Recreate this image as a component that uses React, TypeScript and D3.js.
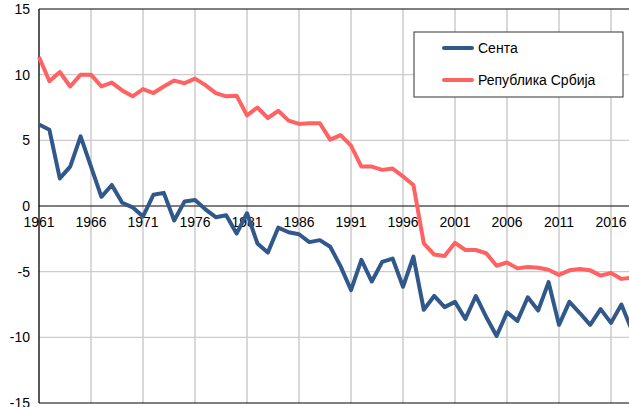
import React, { useRef, useEffect } from 'react';
import * as d3 from 'd3';

// years 1961 - 2018
const years = d3.range(1961, 2019);

const sentaValues = [
  6.2, 5.8, 2.1, 3.0, 5.3, 3.0, 0.7, 1.6, 0.25, -0.1,
  -0.8, 0.85, 1.0, -1.1, 0.35, 0.45, -0.25, -0.85, -0.7, -2.1,
  -0.55, -2.85, -3.55, -1.65, -2.0, -2.15, -2.75, -2.6, -3.1, -4.6,
  -6.4, -4.1, -5.75, -4.25, -4.0, -6.15, -3.85, -7.9, -6.85, -7.7,
  -7.3, -8.6, -6.85, -8.45, -9.9, -8.1, -8.75, -6.95, -7.95, -5.8,
  -9.05, -7.3, -8.15, -9.05, -7.85, -8.9, -7.5, -9.45,
];

const serbiaValues = [
  11.35, 9.5, 10.2, 9.1, 10.0, 10.0, 9.1, 9.4, 8.8, 8.35,
  8.9, 8.6, 9.1, 9.55, 9.35, 9.7, 9.2, 8.6, 8.35, 8.4,
  6.9, 7.5, 6.7, 7.25, 6.5, 6.25, 6.3, 6.3, 5.05, 5.4,
  4.6, 3.0, 3.0, 2.75, 2.85, 2.25, 1.6, -2.85, -3.7, -3.8,
  -2.8, -3.35, -3.35, -3.6, -4.55, -4.3, -4.75, -4.65, -4.7, -4.85,
  -5.25, -4.9, -4.8, -4.9, -5.3, -5.1, -5.55, -5.45,
];

const yTicks = [-15, -10, -5, 0, 5, 10, 15];
const xTicks = d3.range(1961, 2017, 5);

const seriesNames = ['Сента', 'Република Србија'];
const seriesColors = ['#30588a', '#ff6262'];

const App = () => {
  const chartRef = useRef<SVGSVGElement>(null);

  useEffect(() => {
    const svg = d3.select(chartRef.current);
    svg.selectAll('*').remove();

    const width = 629;
    const height = 407;
    const left = 39;
    const top = 9;
    const bottom = 403;

    const xScale = d3.scaleLinear().domain([1961, 2018]).range([left, left + 57 * 10.4]);
    const yScale = d3.scaleLinear().domain([-15, 15]).range([bottom, top]);

    const font = 'Liberation Sans, Arial, sans-serif';

    // vertical grid
    svg
      .append('g')
      .selectAll('line')
      .data(xTicks.slice(1))
      .join('line')
      .attr('x1', (d) => xScale(d))
      .attr('x2', (d) => xScale(d))
      .attr('y1', top)
      .attr('y2', bottom)
      .attr('stroke', '#c4c4c4')
      .attr('stroke-width', 1.3);

    // horizontal grid
    svg
      .append('g')
      .selectAll('line')
      .data(yTicks.filter((d) => d !== 0 && Math.abs(d) !== 15))
      .join('line')
      .attr('x1', left)
      .attr('x2', width)
      .attr('y1', (d) => yScale(d))
      .attr('y2', (d) => yScale(d))
      .attr('stroke', '#cccccc')
      .attr('stroke-width', 1.3);

    // frame lines: top, bottom, zero, left axis
    svg
      .append('g')
      .selectAll('line')
      .data([15, -15, 0])
      .join('line')
      .attr('x1', left)
      .attr('x2', width)
      .attr('y1', (d) => yScale(d))
      .attr('y2', (d) => yScale(d))
      .attr('stroke', '#000')
      .attr('stroke-width', 1.2);

    svg
      .append('line')
      .attr('x1', left)
      .attr('x2', left)
      .attr('y1', top)
      .attr('y2', bottom)
      .attr('stroke', '#000')
      .attr('stroke-width', 1.3);

    // y labels
    svg
      .append('g')
      .selectAll('text')
      .data(yTicks)
      .join('text')
      .attr('x', 30)
      .attr('y', (d) => yScale(d))
      .attr('dy', '0.36em')
      .attr('text-anchor', 'end')
      .style('font-family', font)
      .style('font-size', '14px')
      .attr('fill', '#000')
      .text((d) => d);

    // x labels sit under the zero line
    svg
      .append('g')
      .selectAll('text')
      .data(xTicks)
      .join('text')
      .attr('x', (d) => xScale(d))
      .attr('y', yScale(0) + 21)
      .attr('text-anchor', 'middle')
      .style('font-family', font)
      .style('font-size', '14px')
      .attr('fill', '#000')
      .text((d) => d);

    const line = d3
      .line<number>()
      .x((d, i) => xScale(years[i]))
      .y((d) => yScale(d));

    [sentaValues, serbiaValues].forEach((values, i) => {
      svg
        .append('path')
        .datum(values)
        .attr('fill', 'none')
        .attr('stroke', seriesColors[i])
        .attr('stroke-width', 4)
        .attr('stroke-linejoin', 'round')
        .attr('d', line);
    });

    // legend
    const legend = svg.append('g').attr('transform', 'translate(414,32)');
    legend
      .append('rect')
      .attr('width', 209)
      .attr('height', 65)
      .attr('fill', '#fff')
      .attr('stroke', '#333')
      .attr('stroke-width', 1);

    seriesNames.forEach((name, i) => {
      const y = 16 + i * 32;
      legend
        .append('line')
        .attr('x1', 30)
        .attr('x2', 58)
        .attr('y1', y)
        .attr('y2', y)
        .attr('stroke', seriesColors[i])
        .attr('stroke-width', 4)
        .attr('stroke-linecap', 'round');
      legend
        .append('text')
        .attr('x', 64)
        .attr('y', y)
        .attr('dy', '0.36em')
        .style('font-family', font)
        .style('font-size', '14px')
        .attr('fill', '#000')
        .text(name);
    });

    svg.attr('width', width).attr('height', height);
  }, []);

  return (
    <svg
      ref={chartRef}
      width={629}
      height={407}
      style={{ position: 'absolute', left: 0, top: 0, background: '#fff', overflow: 'hidden' }}
    ></svg>
  );
};

export default App;
